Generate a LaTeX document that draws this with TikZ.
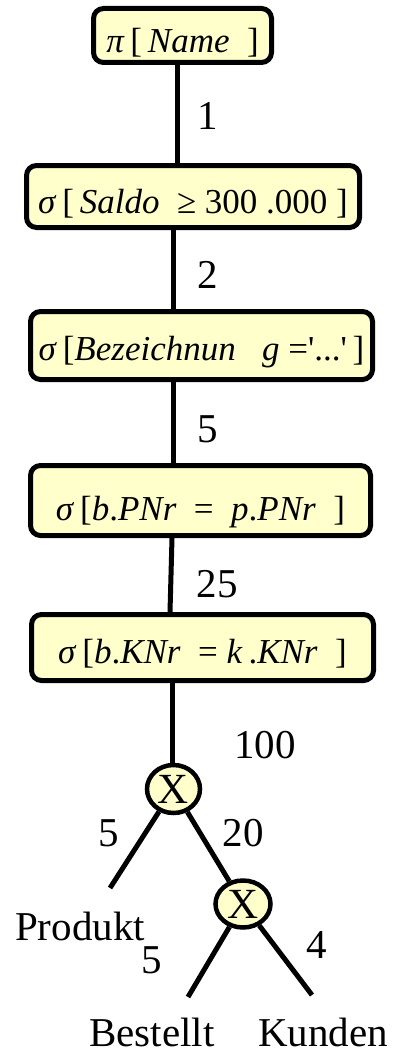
\documentclass[tikz,border=0pt]{standalone}
\usepackage{fontspec}
\setmainfont{Liberation Serif}
\usetikzlibrary{shapes.geometric}
\definecolor{boxfill}{HTML}{FFFFCC}
\tikzset{
  opbox/.style={draw=black, line width=5pt, fill=boxfill, rounded corners=10pt, inner sep=0pt, text depth=0pt},
  joinop/.style={draw=black, line width=4.5pt, fill=boxfill, ellipse, inner sep=0pt, font=\fontsize{43}{45}\selectfont},
  edge/.style={line width=5pt},
  lbl/.style={anchor=base, inner sep=0pt, font=\fontsize{41}{44}\selectfont},
  ftext/.style={font=\fontsize{35}{38}\selectfont}
}
\begin{document}
\begin{tikzpicture}[x=1pt,y=-1pt]
\useasboundingbox (0,0) rectangle (395,1054);
\node[opbox, minimum width=178pt, minimum height=54pt, text height=35pt, ftext] (b1) at (182.5,35.5) {\textit{π}\,[\,\textit{Name}\ \ ]};
\node[opbox, minimum width=333pt, minimum height=62pt, text height=33pt, ftext] (b2) at (193,196.5) {\textit{σ}\,[\,\textit{Saldo}\ \ ≥ 300\ .000\ ]\hspace{10pt}};
\node[opbox, minimum width=342pt, minimum height=68pt, text height=29pt, ftext] (b3) at (201.5,345.5) {\textit{σ}\,[\textit{Bezeichnun}\ \ \ \textit{g}\ =\textquotesingle...\textquotesingle\,]\hspace{4pt}};
\node[opbox, minimum width=340pt, minimum height=70pt, text height=39pt, ftext] (b4) at (200.5,500.5) {\textit{σ}\,[\textit{b}.\textit{PNr}\ \ =\ \ \textit{p}.\textit{PNr}\ \ ]};
\node[opbox, minimum width=342pt, minimum height=66pt, text height=31pt, ftext] (b5) at (202.5,647.5) {\textit{σ}\,[\textit{b}.\textit{KNr}\ \ =\ \textit{k}\,.\textit{KNr}\ \ ]\hspace{12pt}};
\node[joinop, minimum width=53pt, minimum height=48pt] (x1) at (173.5,789) {X};
\node[joinop, minimum width=55pt, minimum height=47pt] (x2) at (243,904) {X};
\coordinate (pend) at (110,888);
\coordinate (bend) at (188,997);
\coordinate (kend) at (312,995);
\draw[edge] (b1.south -| 177,0) -- (b2.north -| 177,0);
\draw[edge] (b2.south -| 173,0) -- (b3.north -| 173,0);
\draw[edge] (b3.south -| 173,0) -- (b4.north -| 173,0);
\draw[edge] (b4.south -| 172,0) -- (b5.north -| 170,0);
\draw[edge] (b5.south -| 172,0) -- (x1.north -| 172,0);
\draw[edge] (x1) -- (pend);
\draw[edge] (x1) -- (x2);
\draw[edge] (x2) -- (bend);
\draw[edge] (x2) -- (kend);
\node[lbl] (l1) at (208,130) {1};
\node[lbl] (l2) at (208,288) {2};
\node[lbl] (l3) at (208,442) {5};
\node[lbl] (l4) at (217,597) {25};
\node[lbl] (l5) at (265,758) {100};
\node[lbl] (l6) at (109,846) {5};
\node[lbl] (l7) at (243,846) {20};
\node[lbl] (l8) at (152,973) {5};
\node[lbl] (l9) at (317,958) {4};
\node[lbl] (produkt) at (80,940) {Produkt};
\node[lbl] (bestellt) at (152,1046) {Bestellt};
\node[lbl] (kunden) at (323,1046) {Kunden};
\end{tikzpicture}
\end{document}
